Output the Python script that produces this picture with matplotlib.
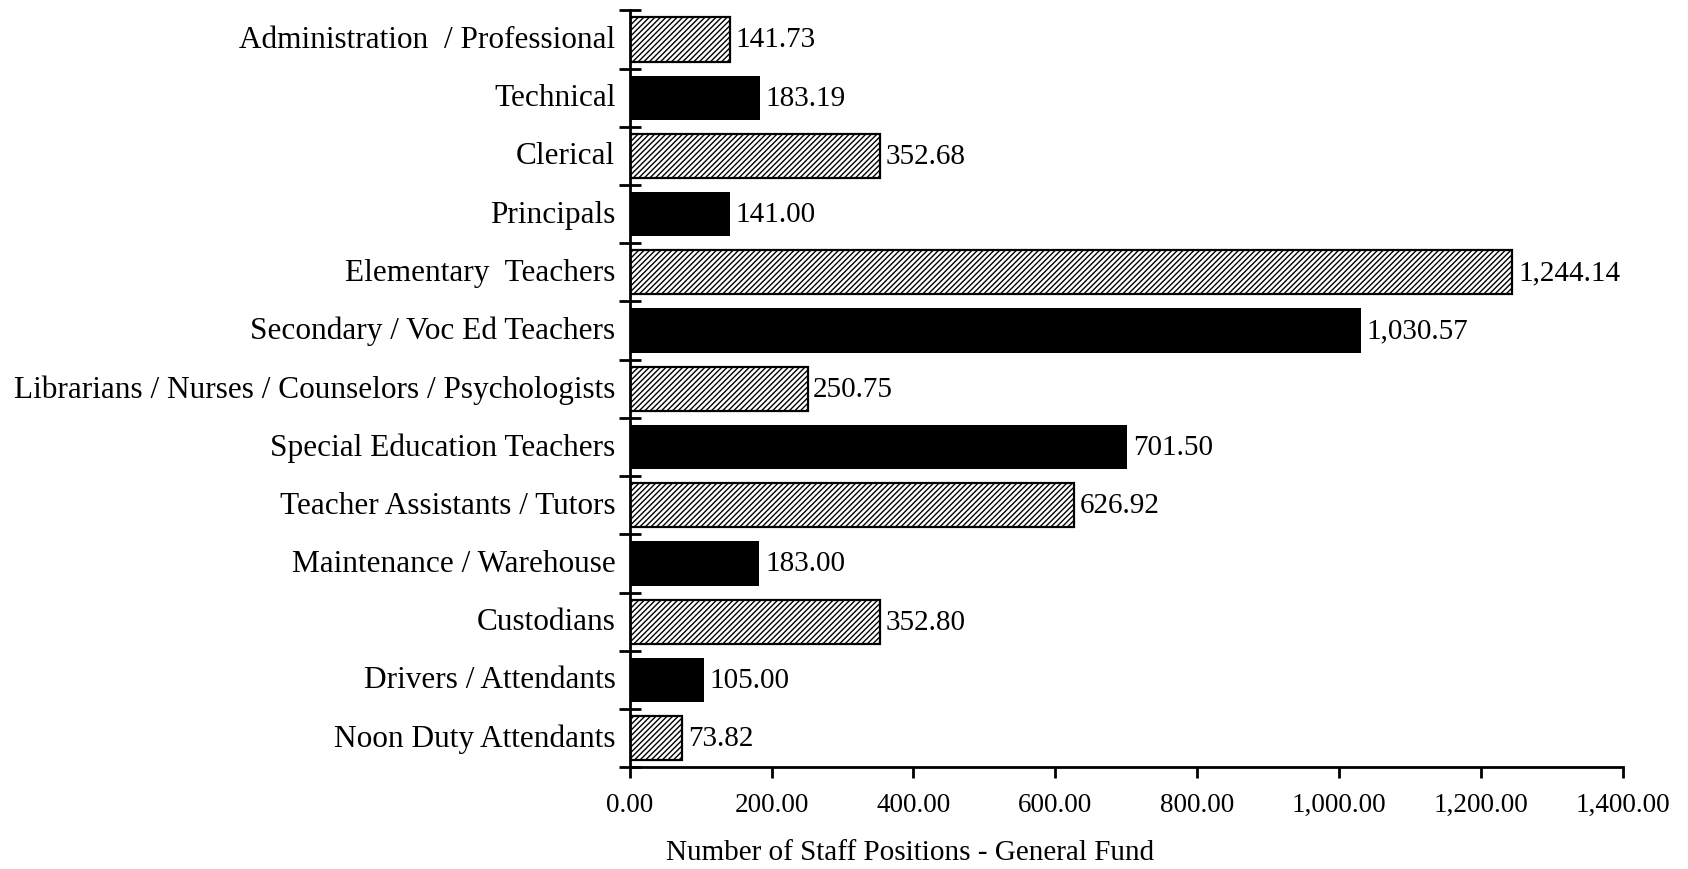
import numpy as np
import matplotlib as mp
mp.use('Agg')
import matplotlib.pyplot as plt
from matplotlib.ticker import FuncFormatter

plt.rcParams['font.family'] = ['Liberation Serif', 'DejaVu Serif']
plt.rcParams['hatch.linewidth'] = 1.0

categories = ["Administration  / Professional", "Technical", "Clerical", "Principals",
              "Elementary  Teachers", "Secondary / Voc Ed Teachers",
              "Librarians / Nurses / Counselors / Psychologists",
              "Special Education Teachers", "Teacher Assistants / Tutors",
              "Maintenance / Warehouse", "Custodians", "Drivers / Attendants",
              "Noon Duty Attendants"]
values = [141.73, 183.19, 352.68, 141.00, 1244.14, 1030.57, 250.75,
          701.50, 626.92, 183.00, 352.80, 105.00, 73.82]
x_ticks = [0, 200, 400, 600, 800, 1000, 1200, 1400]

fig = plt.figure(figsize=(16.88, 8.70), dpi=100)
ax = fig.add_axes([0.373, 0.117, 0.5885, 0.870])

fs_cat = 22.5
fs_val = 21
y = np.arange(len(categories))
for i, (v, c) in enumerate(zip(values, categories)):
    if i % 2 == 0:
        ax.barh(i, v, height=0.76, color='white', edgecolor='black',
                hatch='//////', linewidth=1.6)
    else:
        ax.barh(i, v, height=0.76, color='black', edgecolor='black', linewidth=0)
    ax.text(v + 8, i, f"{v:,.2f}", va='center', ha='left', fontsize=fs_val)
    ax.text(-20, i, c, va='center', ha='right', fontsize=fs_cat)

ax.set_ylim(len(categories) - 0.5, -0.5)
ax.set_yticks(np.arange(len(categories) + 1) - 0.5)
ax.set_yticklabels([])
ax.tick_params(axis='y', direction='inout', length=16, width=2)
ax.set_xlim(0, 1400)
ax.set_xticks(x_ticks)
ax.xaxis.set_major_formatter(FuncFormatter(lambda v, p: f"{v:,.2f}"))
ax.tick_params(axis='x', direction='out', length=8, width=2, labelsize=19.5, pad=10)
ax.set_xlabel("Number of Staff Positions - General Fund", fontsize=fs_val)
ax.xaxis.set_label_coords(0.282, -0.095)

for s in ['top', 'right']:
    ax.spines[s].set_visible(False)
for s in ['left', 'bottom']:
    ax.spines[s].set_linewidth(2)

plt.savefig("out.png", dpi=100)
